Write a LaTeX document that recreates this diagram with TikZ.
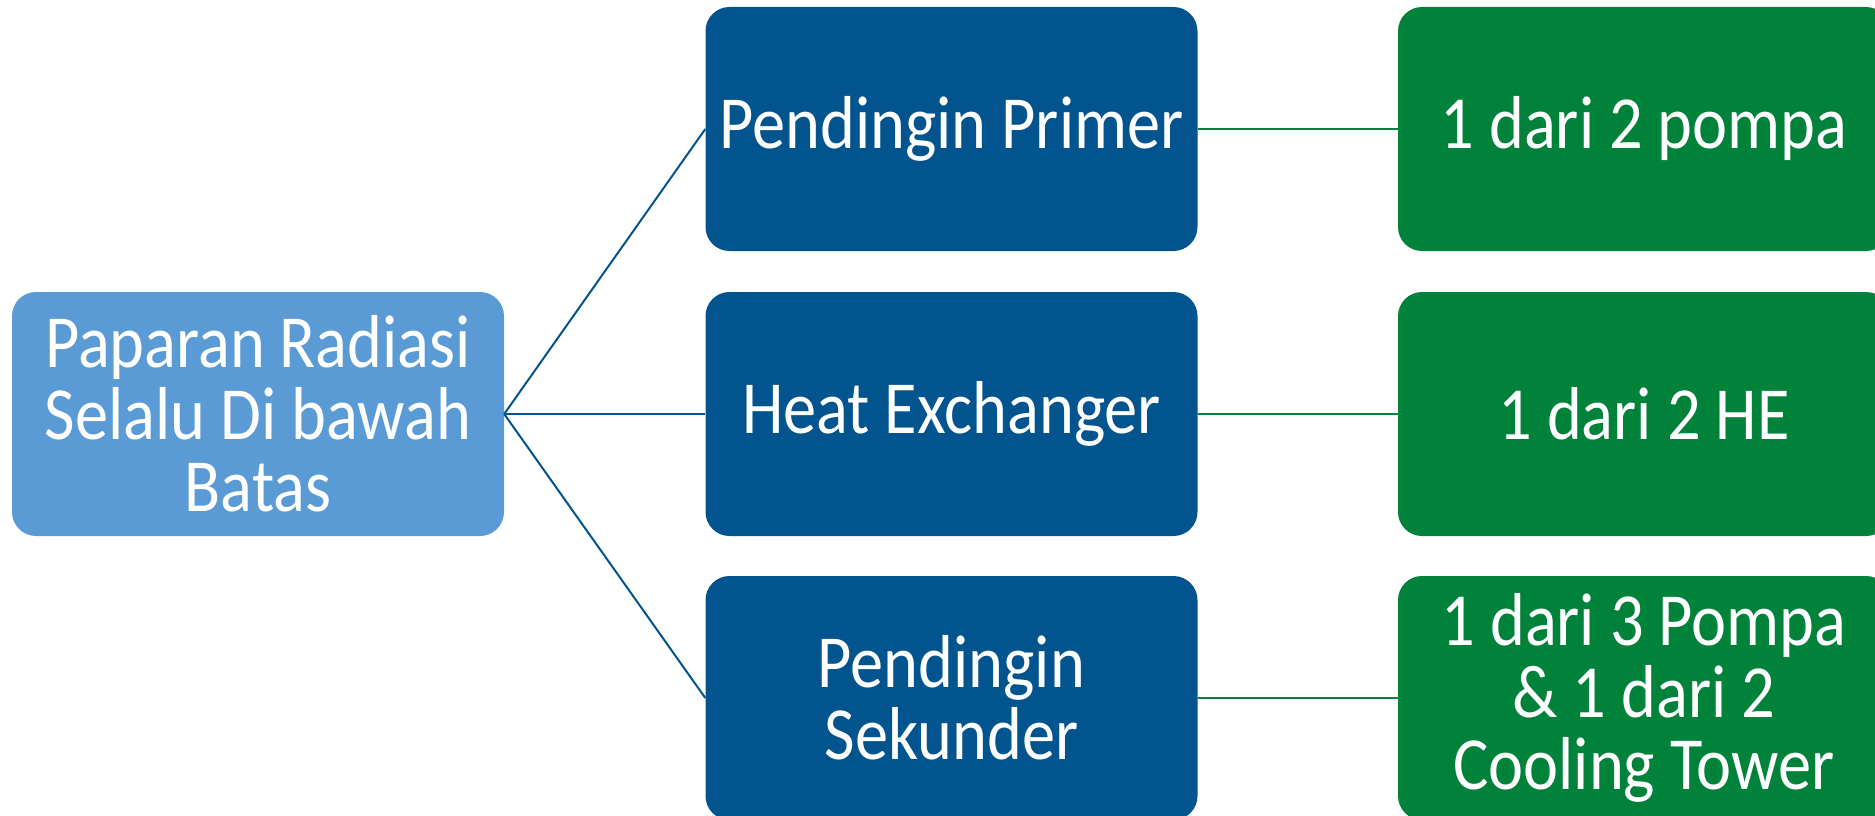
\documentclass[tikz,border=0pt]{standalone}
\usepackage{fontspec}
\setmainfont{Carlito}[FakeStretch=0.885]
\definecolor{lightblue}{HTML}{5B9BD5}
\definecolor{darkblue}{HTML}{02548F}
\definecolor{darkgreen}{HTML}{00823B}
\begin{document}
\begin{tikzpicture}[x=1pt,y=-1pt,
  box/.style={rectangle,rounded corners=24pt,minimum width=492pt,minimum height=244pt,
    text=white,align=center,inner sep=0pt,font=\fontsize{75}{72}\selectfont},
  rootbox/.style={box,fill=lightblue},
  midbox/.style={box,fill=darkblue},
  leafbox/.style={box,fill=darkgreen},
  blueline/.style={draw=darkblue,line width=2pt},
  greenline/.style={draw=darkgreen,line width=2.5pt}]
\useasboundingbox (0,0) rectangle (1875,816);
\clip (0,0) rectangle (1875,816);
\node[rootbox] (root) at (258,414) {Paparan Radiasi\\Selalu Di bawah\\Batas};
\node[midbox] (m1) at (951.5,129) {Pendingin Primer};
\node[midbox] (m2) at (951.5,414) {Heat Exchanger};
\node[midbox] (m3) at (951.5,698) {Pendingin\\Sekunder};
\node[leafbox] (l1) at (1644,129) {1 dari 2 pompa};
\node[leafbox] (l2) at (1644,414) {1 dari 2 HE};
\node[leafbox] (l3) at (1644,698) {1 dari 3 Pompa\\\&\ 1 dari 2\\Cooling Tower};
\draw[blueline] (root.east) -- (m1.west);
\draw[blueline] (root.east) -- (m2.west);
\draw[blueline] (root.east) -- (m3.west);
\draw[greenline] (m1.east) -- (l1.west);
\draw[greenline] (m2.east) -- (l2.west);
\draw[greenline] (m3.east) -- (l3.west);
\end{tikzpicture}
\end{document}
